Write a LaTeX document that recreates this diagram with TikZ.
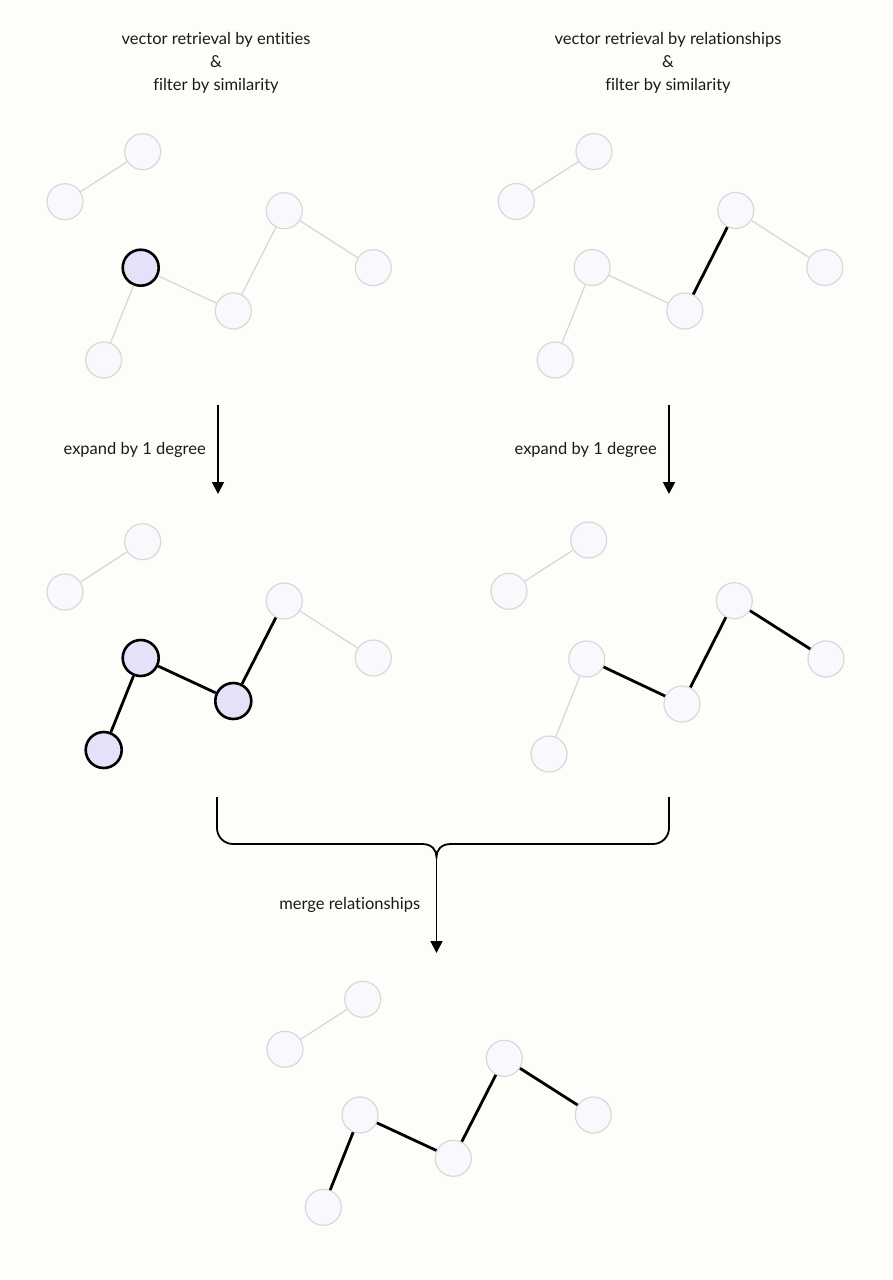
\documentclass[tikz,border=0pt]{standalone}
\usepackage{fontspec}
\setmainfont[Ligatures={NoCommon,NoRare}]{Lato}
\usepackage{tikz}
\usetikzlibrary{arrows,arrows.meta,positioning}
\definecolor{paper}{RGB}{253,253,249}
\definecolor{nodefill}{RGB}{249,248,253}
\definecolor{nodeline}{RGB}{216,216,216}
\definecolor{hitfill}{RGB}{230,224,248}
\definecolor{ink}{RGB}{26,26,26}

\begin{document}
\begin{tikzpicture}[x=1pt,y=-1pt,>={Triangle[length=12pt,width=12pt]},
font=\fontsize{16.5}{23}\selectfont,text=ink]
\tikzstyle{vertex}=[circle,minimum size=36pt,inner sep=0pt,fill=nodefill,draw=nodeline,line width=1.2pt]
\tikzstyle{hit}=[vertex,fill=hitfill,draw=black,line width=2.6pt]
\tikzstyle{faint}=[draw=nodeline,line width=1.3pt]
\tikzstyle{strong}=[draw=black,line width=2.8pt]
\tikzstyle{flow}=[->,draw=black,line width=1.8pt]

\fill[paper] (0,0) rectangle (893,1280);

% titles
\node[align=center] (enttitle) at (216,63) {vector retrieval by entities\\\&\\filter by similarity};
\node[align=center] (reltitle) at (668,63) {vector retrieval by relationships\\\&\\filter by similarity};

% entities, before expansion
\node[vertex] (e1) at (142.7,151.7) {};
\node[vertex] (e2) at (65,201.7) {};
\node[vertex] (e3) at (284.3,210.7) {};
\node[vertex] (e4) at (373.3,267.7) {};
\node[hit]    (e5) at (140.7,267.7) {};
\node[vertex] (e6) at (233.3,311) {};
\node[vertex] (e7) at (103.7,360) {};

\path (e2) edge[faint] (e1)
(e5) edge[faint] (e6)
(e6) edge[faint] (e3)
(e3) edge[faint] (e4)
(e5) edge[faint] (e7);

% relationships, before expansion
\node[vertex] (r1) at (594,151.5) {};
\node[vertex] (r2) at (516.3,201.5) {};
\node[vertex] (r3) at (735.8,210.5) {};
\node[vertex] (r4) at (824.8,267.5) {};
\node[vertex] (r5) at (592.2,267.5) {};
\node[vertex] (r6) at (684.8,311) {};
\node[vertex] (r7) at (555.2,360) {};

\path (r2) edge[faint] (r1)
(r5) edge[faint] (r6)
(r6) edge[strong] (r3)
(r3) edge[faint] (r4)
(r5) edge[faint] (r7);

% expand arrows
\coordinate (eatop) at (218,405);
\coordinate (eabot) at (218,494);
\coordinate (ratop) at (669,405);
\coordinate (rabot) at (669,494);
\draw[flow] (eatop) -- (eabot) node[midway,left=8pt] {expand by 1 degree};
\draw[flow] (ratop) -- (rabot) node[midway,left=8pt] {expand by 1 degree};

% entities, expanded
\node[vertex] (ex1) at (142.7,541.7) {};
\node[vertex] (ex2) at (65,592) {};
\node[vertex] (ex3) at (284.3,601) {};
\node[vertex] (ex4) at (373.3,658) {};
\node[hit]    (ex5) at (140.7,658) {};
\node[hit]    (ex6) at (233.3,701) {};
\node[hit]    (ex7) at (103.7,750) {};

\path (ex2) edge[faint] (ex1)
(ex5) edge[strong] (ex6)
(ex6) edge[strong] (ex3)
(ex3) edge[faint] (ex4)
(ex5) edge[strong] (ex7);

% relationships, expanded
\node[vertex] (rx1) at (588.7,540) {};
\node[vertex] (rx2) at (509,591.3) {};
\node[vertex] (rx3) at (734.3,600.7) {};
\node[vertex] (rx4) at (826,659) {};
\node[vertex] (rx5) at (586.7,659) {};
\node[vertex] (rx6) at (682,704) {};
\node[vertex] (rx7) at (549,754) {};

\path (rx2) edge[faint] (rx1)
(rx5) edge[strong] (rx6)
(rx6) edge[strong] (rx3)
(rx3) edge[strong] (rx4)
(rx5) edge[faint] (rx7);

% merge
\coordinate (lbtop) at (217,797);
\coordinate (rbtop) at (669,797);
\coordinate (lbend) at (422,844);
\coordinate (rbend) at (451,844);
\coordinate (merge) at (436.5,857);
\coordinate (mtip) at (436.5,953);
\draw[black,line width=1.8pt,rounded corners=16pt] (lbtop) |- (lbend);
\draw[black,line width=1.8pt,rounded corners=16pt] (rbtop) |- (rbend);
\draw[black,line width=1.8pt] (lbend) .. controls (432,844) and (436.5,850) .. (merge)
.. controls (436.5,850) and (441,844) .. (rbend);
\draw[flow] (merge) -- (mtip) node[midway,left=12pt] {merge relationships};

% merged result
\node[vertex] (m1) at (362.7,999.3) {};
\node[vertex] (m2) at (285,1049.3) {};
\node[vertex] (m3) at (504.3,1058.3) {};
\node[vertex] (m4) at (593.3,1115) {};
\node[vertex] (m5) at (360,1115) {};
\node[vertex] (m6) at (453.3,1158.3) {};
\node[vertex] (m7) at (323.3,1207.3) {};

\path (m2) edge[faint] (m1)
(m5) edge[strong] (m6)
(m6) edge[strong] (m3)
(m3) edge[strong] (m4)
(m5) edge[strong] (m7);

\end{tikzpicture}
\end{document}
